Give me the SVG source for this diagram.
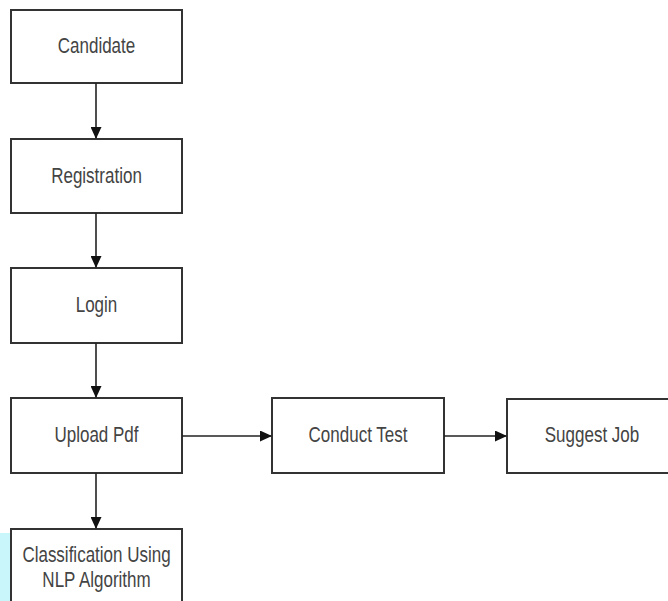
<svg xmlns="http://www.w3.org/2000/svg" width="668" height="601" viewBox="0 0 668 601">
<style>
.box{fill:#fff;stroke:#333;stroke-width:2}
.lbl{font-family:"Liberation Sans",Arial,sans-serif;font-size:17px;fill:#444;text-anchor:middle}
.conn{stroke:#222;stroke-width:1.6;fill:none}
</style>
<defs>
<marker id="ah" markerWidth="12" markerHeight="11" refX="11" refY="5.5" orient="auto" markerUnits="userSpaceOnUse">
<path d="M0,0 L12,5.5 L0,11 Z" fill="#111"/>
</marker>
</defs>
<rect x="0" y="0" width="668" height="601" fill="#fff"/>
<rect x="0" y="533" width="12" height="68" fill="#c8f6fb"/>
<g id="candidate">
<rect class="box" x="11" y="10" width="171" height="73"/>
<text class="lbl" transform="translate(96.5,53) scale(1,1.3)">Candidate</text>
</g>
<g id="registration">
<rect class="box" x="11" y="139" width="171" height="74"/>
<text class="lbl" transform="translate(96.5,183) scale(1,1.3)">Registration</text>
</g>
<g id="login">
<rect class="box" x="11" y="268" width="171" height="75"/>
<text class="lbl" transform="translate(96.5,312) scale(1,1.3)">Login</text>
</g>
<g id="upload">
<rect class="box" x="11" y="398" width="171" height="75"/>
<text class="lbl" transform="translate(96.5,442) scale(1,1.3)">Upload Pdf</text>
</g>
<g id="classification">
<rect class="box" x="11" y="529" width="171" height="80"/>
<text class="lbl" transform="translate(96.5,562) scale(1,1.3)">Classification Using</text>
<text class="lbl" transform="translate(96.5,587) scale(1,1.3)">NLP Algorithm</text>
</g>
<g id="conduct">
<rect class="box" x="272" y="398" width="172" height="75"/>
<text class="lbl" transform="translate(358,442) scale(1,1.3)">Conduct Test</text>
</g>
<g id="suggest">
<rect class="box" x="507" y="399" width="170" height="74"/>
<text class="lbl" transform="translate(592,442) scale(1,1.3)">Suggest Job</text>
</g>
<g id="connectors">
<line class="conn" x1="96" y1="83" x2="96" y2="138" marker-end="url(#ah)"/>
<line class="conn" x1="96" y1="213" x2="96" y2="267" marker-end="url(#ah)"/>
<line class="conn" x1="96" y1="343" x2="96" y2="397" marker-end="url(#ah)"/>
<line class="conn" x1="96" y1="473" x2="96" y2="528" marker-end="url(#ah)"/>
<line class="conn" x1="182" y1="436" x2="271" y2="436" marker-end="url(#ah)"/>
<line class="conn" x1="444" y1="436" x2="506" y2="436" marker-end="url(#ah)"/>
</g>
</svg>
